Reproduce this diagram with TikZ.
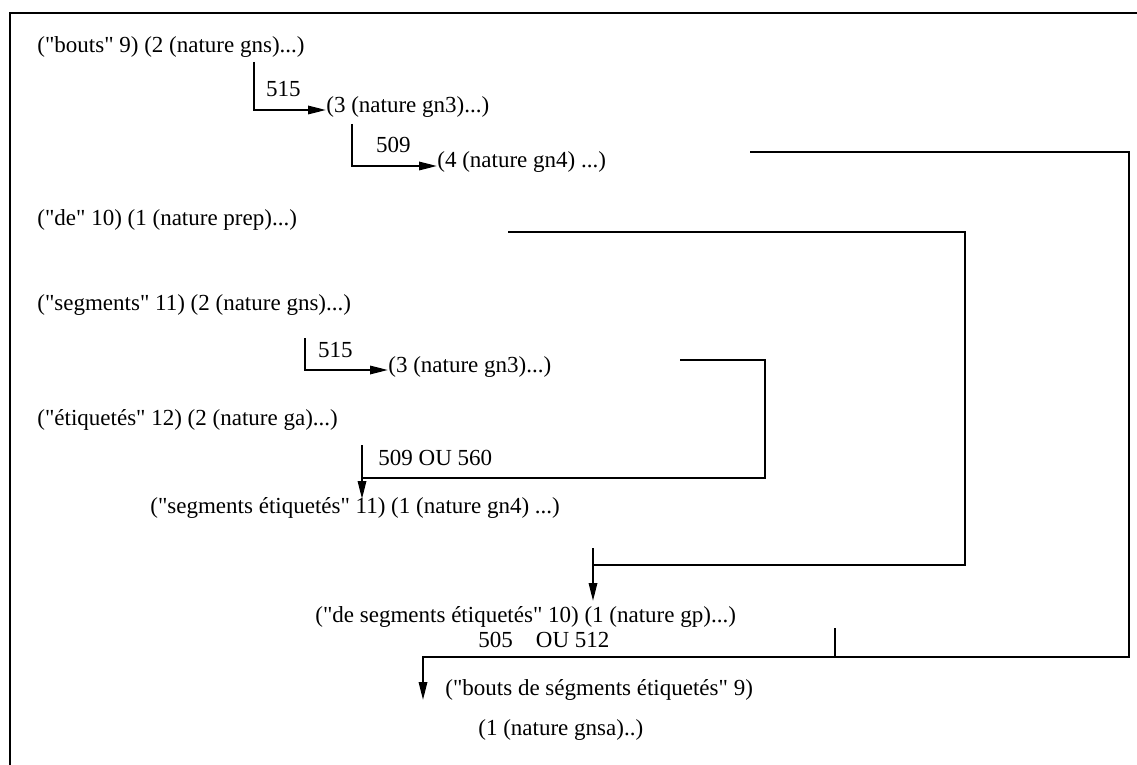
\documentclass[tikz,border=0pt]{standalone}
\usepackage{fontspec}
\setmainfont{Liberation Serif}[Ligatures=TeXOff]
\usepackage{tikz}
\usetikzlibrary{arrows.meta,positioning,calc}

\begin{document}
\begin{tikzpicture}[x=0.5pt,y=-0.5pt,
  lbl/.style={anchor=west,inner sep=0pt,font=\fontsize{11.5}{13}\selectfont},
  num/.style={inner sep=0pt,font=\fontsize{11.5}{13}\selectfont},
  link/.style={line width=1pt},
  arr/.style={link,-{Triangle[length=9pt,width=4.2pt]}},
  frame/.style={line width=1.4pt}
]
  \useasboundingbox (0,0) rectangle (1137,765);
  \draw[frame] (1137,13) -- (10,13) -- (10,765);

  % words of the sentence
  \node[lbl] (bouts) at (37,47) {("bouts" 9) (2 (nature gns)...)};
  \node[lbl] (boutsA) at (326,107) {(3 (nature gn3)...)};
  \node[lbl] (boutsB) at (437,162) {(4 (nature gn4) ...)};
  \node[lbl] (de) at (37,220) {("de" 10) (1 (nature prep)...)};
  \node[lbl] (seg) at (37,305) {("segments" 11) (2 (nature gns)...)};
  \node[lbl] (segA) at (388,367) {(3 (nature gn3)...)};
  \node[lbl] (etiq) at (37,420) {("étiquetés" 12) (2 (nature ga)...)};
  \node[lbl] (segEtiq) at (150,508) {("segments étiquetés" 11) (1 (nature gn4) ...)};
  \node[lbl] (deSeg) at (315,617) {("de segments étiquetés" 10) (1 (nature gp)...)};
  \node[lbl] (boutsSeg) at (445,690) {("bouts de ségments étiquetés" 9)};
  \node[lbl] (gnsa) at (478,730) {(1 (nature gnsa)..)};

  % rules
  \coordinate (r1) at (254,62);
  \coordinate (r2) at (352,124);
  \coordinate (r3) at (305,338);
  \draw[arr] (r1) |- node[num,pos=0.5,anchor=south west,xshift=5.5pt,yshift=6pt]{515} (boutsA.west |- 0,110);
  \draw[arr] (r2) |- node[num,pos=0.5,anchor=south west,xshift=11.5pt,yshift=6pt]{509} (boutsB.west |- 0,166);
  \draw[arr] (r3) |- node[num,pos=0.5,anchor=south west,xshift=6pt,yshift=5.5pt]{515} (segA.west |- 0,370);

  % groupings
  \coordinate (g1) at (750,152);
  \coordinate (g2) at (508,232);
  \coordinate (g3) at (680,360);
  \coordinate (j1) at (362,445);
  \coordinate (j2) at (593,548);
  \coordinate (j3) at (835,628);
  \draw[link] (g3) -| (765,478) -- (j1 |- 0,478);
  \draw[arr] (j1) -- (j1 |- 0,499);
  \node[num,anchor=west] (ouA) at (378,458) {509 OU 560};
  \draw[link] (g2) -| (965,565) -- (j2 |- 0,565);
  \draw[arr] (j2) -- (j2 |- 0,601);
  \draw[arr] (g1) -| (1129,657) -| ($(boutsSeg.west)+(-22,10)$);
  \draw[link] (j3) -- (j3 |- 0,657);
  \node[num,anchor=west] (ouB) at (478,640) {505\quad OU 512};
\end{tikzpicture}
\end{document}
